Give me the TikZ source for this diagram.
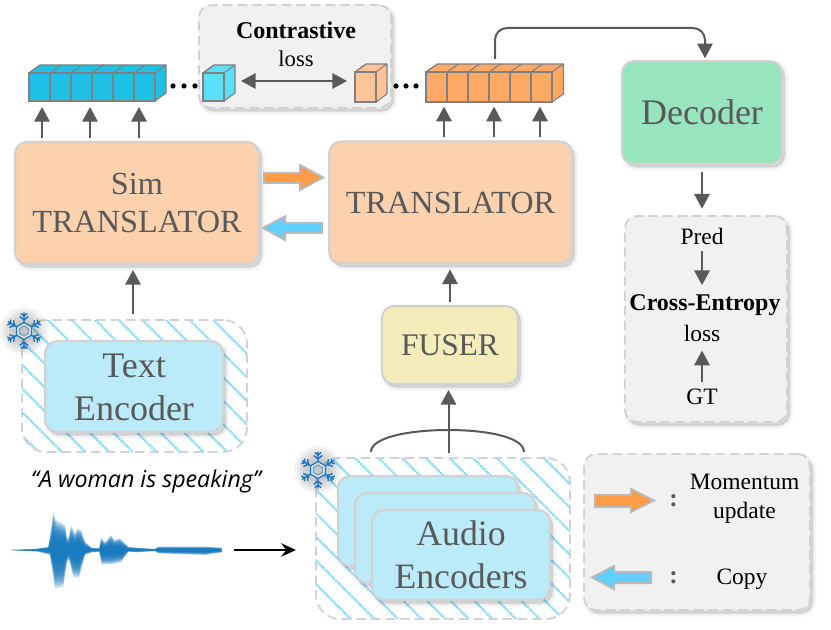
\documentclass[tikz,border=0pt]{standalone}
\usepackage{fontspec}
\setmainfont{Liberation Serif}
\newfontfamily\quotefont{Open Sans}
\usetikzlibrary{arrows.meta,calc,shadows}
\definecolor{inkgrey}{HTML}{595959}
\definecolor{edgegrey}{HTML}{D2D2D2}
\definecolor{peach}{HTML}{FBD1AE}
\definecolor{mint}{HTML}{97E5BC}
\definecolor{sand}{HTML}{F5ECBC}
\definecolor{ice}{HTML}{BBEBF8}
\definecolor{panel}{HTML}{F1F1F1}
\definecolor{hatchblue}{HTML}{7FD9FA}
\definecolor{flakeblue}{HTML}{1B76C2}
\definecolor{waveblue}{HTML}{0F75BD}
\definecolor{rowblue}{HTML}{1FC0E6}
\definecolor{oneblue}{HTML}{5CDFF8}
\definecolor{rowor}{HTML}{FFA966}
\definecolor{oneor}{HTML}{FFC398}
\definecolor{fator}{HTML}{FF9C45}
\definecolor{fatblue}{HTML}{5FD0FF}
\tikzset{
  softshadow/.style={
    general shadow={solid,fill=black,draw=black,line width=6pt,opacity=.025,shadow xshift=2pt,shadow yshift=-2.5pt},
    general shadow={solid,fill=black,draw=black,line width=3.5pt,opacity=.035,shadow xshift=2pt,shadow yshift=-2.5pt},
    general shadow={solid,fill=black,draw=black,line width=1pt,opacity=.05,shadow xshift=2pt,shadow yshift=-2.5pt}},
  block/.style={softshadow,draw=edgegrey,line width=1.6pt,rounded corners=9pt,outer sep=0pt,inner sep=0pt,
    align=center,text=inkgrey},
  panelbox/.style={softshadow,fill=panel,draw=edgegrey,line width=1.4pt,dash pattern=on 7pt off 4pt,
    rounded corners=9pt,outer sep=0pt,inner sep=0pt},
  label/.style={inner sep=0pt,outer sep=0pt,align=center,font=\fontsize{17.6pt}{22pt}\selectfont},
  conn/.style={draw=inkgrey,line width=1.5pt,-{Triangle[width=11.5pt,length=11pt]}},
  twoway/.style={draw=inkgrey,line width=1.5pt,{Triangle[width=11.5pt,length=11pt]}-{Triangle[width=11.5pt,length=11pt]}},
  plainline/.style={draw=inkgrey,line width=1.5pt},
  fatarrow/.style={draw=black!27,line width=1.5pt,line join=miter},
  dotmark/.style={fill=black},
  hatched/.style={draw=edgegrey,line width=1.4pt,dash pattern=on 7pt off 4pt,rounded corners=18pt,outer sep=0pt,inner sep=0pt,
    path picture={\foreach \k in {-12,...,14}{
      \draw[hatchblue,line width=1.7pt,dash pattern=on 1.3pt off .6pt]
        ($(path picture bounding box.north west)+(\k*23.6+#1,0)$) -- +(260,260);}}},
}
% row of cubes: name, left, top, cell width, cell count, height, depth x, depth y, colour
\newcommand\cuberow[9]{%
  \pgfmathsetmacro\rowW{#4*#5}
  \fill[#9,draw=black!50,line width=.8pt,line join=round]
    (#2,#3) -- ++(#7,-#8) -- ++(\rowW,0) -- ++(0,#6) -- ++(-#7,#8) -- ++(-\rowW,0) -- cycle;
  \draw[black!50,line width=.8pt,line join=round] (#2+\rowW,#3) -- ++(#7,-#8);
  \foreach \c in {1,...,#5}{
    \pgfmathsetmacro\cx{#2+#4*(\c-1)}
    \draw[black!50,line width=.8pt] (\cx,#3) rectangle ++(#4,#6);
    \draw[black!50,line width=.8pt] (\cx,#3) -- ++(#7,-#8);
  }
  \node[minimum width=\rowW*.75pt,minimum height=#6*.75pt,inner sep=0pt,outer sep=0pt,anchor=north west] (#1) at (#2,#3) {};
}
% six-armed snow crystal with a soft dark halo
\newcommand\flake[1]{%
  \begin{scope}[shift={(#1)}]
    \foreach \r in {6,9,...,24}{\fill[black,opacity=.045] (0,0) circle (\r);}
    \foreach \a in {30,90,...,330}{
      \draw[flakeblue,line width=1.05pt,rotate=\a] (8,0) -- (18.5,0)
        (11,0) -- ++(50:5.5) (11,0) -- ++(-50:5.5) (15,0) -- ++(50:4) (15,0) -- ++(-50:4);
    }
    \draw[flakeblue,line width=.9pt,fill=black!12] (30:8.5) -- (90:8.5) -- (150:8.5) -- (210:8.5) -- (270:8.5) -- (330:8.5) -- cycle;
    \draw[flakeblue!70!black!60,line width=.8pt,fill=black!22] (30:5) -- (90:5) -- (150:5) -- (210:5) -- (270:5) -- (330:5) -- cycle;
  \end{scope}
}
% waveform outline, measured from its centre line
\newcommand\wavepath{(20,0) -- (90,-3) -- (130,-10) -- (140,-75) -- (145,-115) -- (152,-90) -- (180,-75) -- (186,-35)
  -- (192,-40) -- (198,-73) -- (210,-50) -- (218,-65) -- (228,-60) -- (240,-25) -- (260,-7) -- (283,-5) -- (288,-37)
  -- (300,-23) -- (318,-45) -- (328,-30) -- (345,-35) -- (370,-10) -- (395,-7) -- (450,-3) -- (460,-10) -- (600,-10)
  -- (650,-7) -- (650,7) -- (600,15) -- (460,10) -- (450,3) -- (395,7) -- (370,5) -- (350,35) -- (320,43) -- (290,43)
  -- (283,5) -- (260,7) -- (240,15) -- (222,83) -- (205,80) -- (192,30) -- (186,35) -- (175,110) -- (150,115)
  -- (135,15) -- (100,5) -- cycle}
\begin{document}
\begin{tikzpicture}[x=.75pt,y=-.75pt]
\useasboundingbox (0,0) rectangle (831,630);
\fill[white] (0,0) rectangle (831,630);

% panels behind the encoders
\node[hatched=26,minimum width=168.75pt,minimum height=99pt] (textouter) at (134.5,386) {};
\node[hatched=15.4,minimum width=190.5pt,minimum height=120.75pt] (audouter) at (443,538.5) {};

% main blocks
\node[block,fill=peach,minimum width=183pt,minimum height=91.5pt,font=\fontsize{24.2pt}{28.5pt}\selectfont] (sim) at (137,203) {Sim\\TRANSLATOR};
\node[block,fill=peach,minimum width=182pt,minimum height=91.5pt,font=\fontsize{24.2pt}{28pt}\selectfont] (trans) at (450.5,202.5) {TRANSLATOR};
\node[block,fill=mint,minimum width=120pt,minimum height=77pt,font=\fontsize{27pt}{30pt}\selectfont] (dec) at (702,112.5) {Decoder};
\node[block,fill=sand,minimum width=102pt,minimum height=58.5pt,font=\fontsize{23.6pt}{28pt}\selectfont] (fuser) at (450,345) {FUSER};
\node[block,fill=ice,minimum width=133.5pt,minimum height=68pt] (textenc) at (134,386.5) {};
\node[text=inkgrey,align=center,inner sep=0pt,font=\fontsize{27pt}{32pt}\selectfont] (textlabel) at (134,387.5) {Text\\Encoder};
\node[block,fill=ice,minimum width=135pt,minimum height=67.5pt] (audA) at (428,521) {};
\node[block,fill=ice,minimum width=135pt,minimum height=67.5pt] (audB) at (445,538) {};
\node[block,fill=ice,minimum width=133.5pt,minimum height=67.5pt,font=\fontsize{26.8pt}{32pt}\selectfont] (audC) at (461,555) {Audio\\Encoders};

% side panels
\node[panelbox,minimum width=144pt,minimum height=77pt] (contrast) at (295,56.5) {};
\node[panelbox,minimum width=121.5pt,minimum height=154.5pt] (ce) at (706,319) {};
\node[panelbox,minimum width=169.5pt,minimum height=117pt] (legend) at (697,532) {};

% token rows and the two compared tokens
\cuberow{rowS}{29}{73}{21}{6}{28}{11}{8}{rowblue}
\cuberow{oneS}{203}{73}{21}{1}{28}{11}{8}{oneblue}
\cuberow{oneT}{355}{72}{21}{1}{30}{11}{8}{oneor}
\cuberow{rowT}{426}{72}{21}{6}{30}{11.5}{8}{rowor}

% ellipsis dots
\foreach \px in {173,184,195,396,406,416}{\fill[dotmark] (\px,86) circle (2.6);}

% panel texts
\node[label,font=\fontsize{18pt}{21pt}\selectfont\bfseries] (ctitle) at (296,30) {Contrastive};
\node[label,font=\fontsize{17pt}{21pt}\selectfont] (closs) at (296,59) {loss};
\node[label] (pred) at (702,236) {Pred};
\node[label,font=\fontsize{18pt}{21pt}\selectfont\bfseries] (xent) at (705,305) {Cross-Entropy};
\node[label] (xloss) at (702,333) {loss};
\node[label] (gt) at (702,397) {GT};
\node[label] (momtext) at (744.5,499) {Momentum\\update};
\node[label] (copytext) at (742,579) {Copy};
\node[label,text=inkgrey,font=\fontsize{19pt}{21pt}\selectfont\bfseries] (colonA) at (673.5,500.5) {:};
\node[label,text=inkgrey,font=\fontsize{19pt}{21pt}\selectfont\bfseries] (colonB) at (673.5,577.5) {:};
\node[inner sep=0pt,outer sep=0pt,font=\quotefont\itshape\fontsize{17.4pt}{20pt}\selectfont] (quote) at (146,481) {“A woman is speaking”};

% waveform built up in thin layers, densest along the centre line
\begin{scope}[shift={(5,550)},x=.25pt,y=-.25pt]
  \foreach \s in {1,.93,.86,.79,.72,.65,.58,.51,.44,.37,.3}{
    \begin{scope}[yscale=\s]\fill[waveblue,opacity=.24] \wavepath;\end{scope}
  }
\end{scope}

% snow crystals on the frozen encoders
\flake{24,331}
\flake{318,470}

% free ends and guide columns for the connectors
\coordinate (wavetail) at (234,550);
\coordinate (g1) at (42,0);
\coordinate (g2) at (90,0);
\coordinate (g3) at (139,0);
\coordinate (g4) at (444,0);
\coordinate (g5) at (494,0);
\coordinate (g6) at (540,0);
\coordinate (g7) at (133,0);
\coordinate (g8) at (448.5,0);
\coordinate (g9) at (702,0);
\coordinate (bl) at ($(audouter.north)+(-72,-6)$);
\coordinate (br) at ($(audouter.north)+(81,-6)$);
\coordinate (bt) at (448.5,430);

% connectors
\foreach \g in {g1,g2,g3}{\draw[conn,shorten <=3pt,shorten >=4.5pt] (sim.north -| \g) -- (rowS.south -| \g);}
\foreach \g in {g4,g5,g6}{\draw[conn,shorten <=3pt,shorten >=3.5pt] (trans.north -| \g) -- (rowT.south -| \g);}
\draw[twoway] ($(oneS.east)+(17,-6)$) -- ($(oneT.west)+(-8,-6)$);
\draw[conn,shorten >=2.2pt,rounded corners=9pt] (495,59) |- (705,28) -- (dec.north -| 705,0);
\draw[conn,shorten <=6pt,shorten >=5.5pt] (dec.south -| g9) -- (ce.north -| g9);
\draw[conn,shorten <=5pt,shorten >=7pt] (pred.south) -- (xent.north -| g9);
\draw[conn,shorten <=5pt,shorten >=7pt] (gt.north) -- (xloss.south);
\draw[conn,shorten <=4.5pt,shorten >=4.5pt] (textouter.north -| g7) -- (sim.south -| g7);
\draw[conn,shorten <=3pt,shorten >=4.5pt] (fuser.north) -- (trans.south -| fuser.north);
\draw[plainline] (bl) .. controls +(0,-15) and +(-38,0) .. (bt) .. controls +(38,0) and +(0,-15) .. (br);
\draw[conn,shorten >=4.5pt] ($(audouter.north -| g8)+(0,-5)$) -- (fuser.south -| g8);
\draw[black,line width=1.5pt,-{Stealth[width=10pt,length=11pt]},shorten >=15pt] (wavetail) -- (wavetail -| audouter.west);

% update and copy arrows
\draw[fatarrow,fill=fator] (264,173) -- (300,173) -- (300,165) -- (323,177.5) -- (300,190) -- (300,183) -- (264,183) -- cycle;
\draw[fatarrow,fill=fatblue] (322,223) -- (285,223) -- (285,216.5) -- (263,228) -- (285,240) -- (285,233) -- (322,233) -- cycle;
\draw[fatarrow,fill=fator] (595,495) -- (631,495) -- (631,489) -- (654,500.5) -- (631,512) -- (631,507) -- (595,507) -- cycle;
\draw[fatarrow,fill=fatblue] (651,572) -- (614,572) -- (614,566) -- (592,577.5) -- (614,589) -- (614,583) -- (651,583) -- cycle;
\end{tikzpicture}
\end{document}
